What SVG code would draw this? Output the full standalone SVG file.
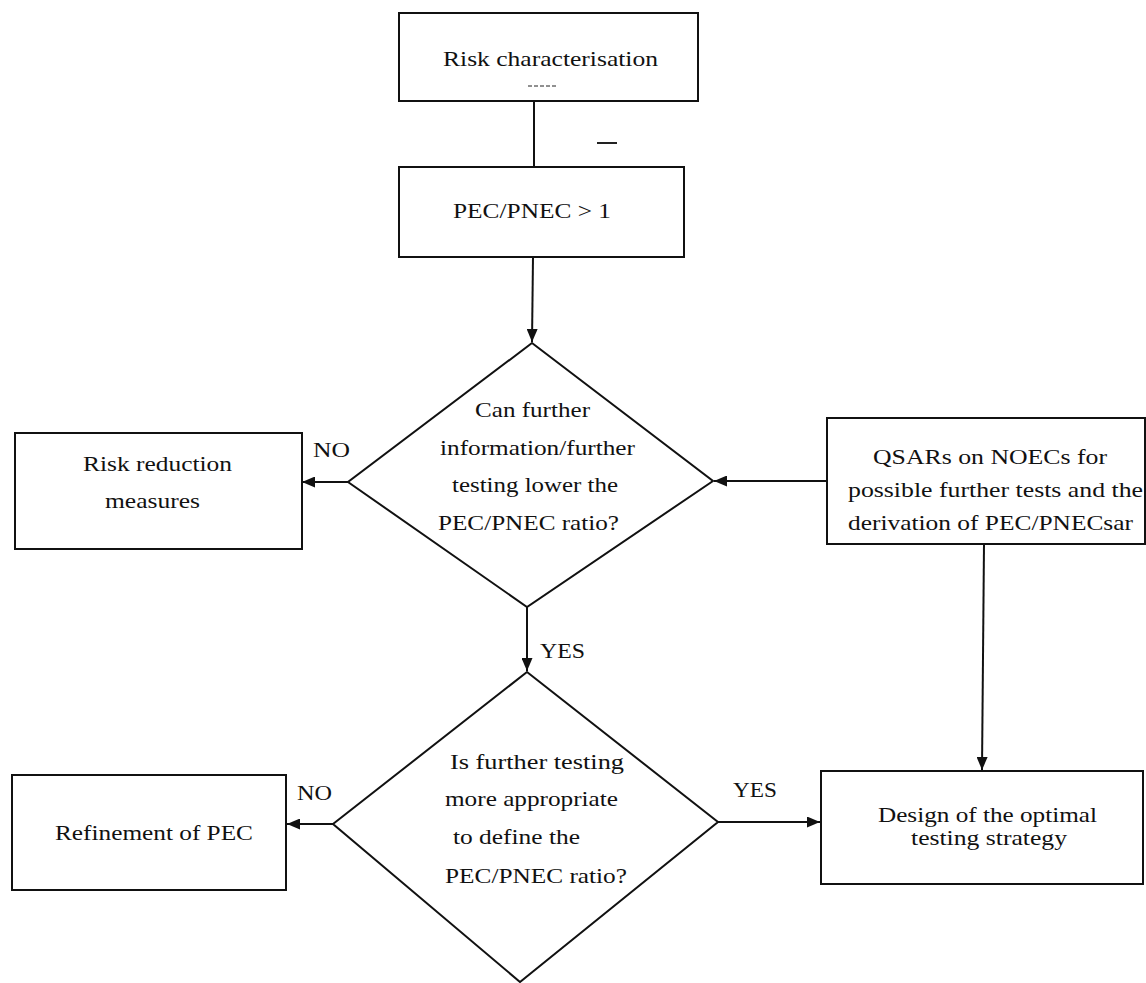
<svg xmlns="http://www.w3.org/2000/svg" width="1146" height="983" viewBox="0 0 1146 983">
  <style>
    .box { fill: #ffffff; stroke: #111111; stroke-width: 2; }
    .dia { fill: #ffffff; stroke: #111111; stroke-width: 2; stroke-linejoin: miter; }
    .edge { fill: none; stroke: #111111; stroke-width: 2; }
    .t { font-family: "Liberation Serif", "Times New Roman", serif; font-size: 21px; fill: #111111; }
    .mark { stroke: #222222; fill: none; }
  </style>
  <defs>
    <marker id="arrow" markerUnits="userSpaceOnUse" markerWidth="13" markerHeight="11" refX="13" refY="5.5" orient="auto">
      <path d="M0,0 L13,5.5 L0,11 z" fill="#111111"/>
    </marker>
  </defs>
  <rect width="1146" height="983" fill="#ffffff"/>

  <g id="connectors">
    <line class="edge" x1="534" y1="101" x2="534" y2="167"/>
    <line class="edge" x1="533" y1="257" x2="532" y2="342" marker-end="url(#arrow)"/>
    <line class="edge" x1="348" y1="482" x2="302" y2="482" marker-end="url(#arrow)"/>
    <line class="edge" x1="827" y1="481" x2="714" y2="481" marker-end="url(#arrow)"/>
    <line class="edge" x1="527" y1="607" x2="527" y2="671" marker-end="url(#arrow)"/>
    <line class="edge" x1="333" y1="824" x2="287" y2="824" marker-end="url(#arrow)"/>
    <line class="edge" x1="718" y1="822" x2="820" y2="822" marker-end="url(#arrow)"/>
    <line class="edge" x1="984" y1="544" x2="982" y2="770" marker-end="url(#arrow)"/>
    <text class="t" x="313" y="457" textLength="37" lengthAdjust="spacingAndGlyphs">NO</text>
    <text class="t" x="540" y="658" textLength="45" lengthAdjust="spacingAndGlyphs">YES</text>
    <text class="t" x="297" y="800" textLength="35" lengthAdjust="spacingAndGlyphs">NO</text>
    <text class="t" x="733" y="797" textLength="44" lengthAdjust="spacingAndGlyphs">YES</text>
  </g>

  <g id="risk-characterisation">
    <rect class="box" x="399" y="13" width="299" height="88"/>
    <text class="t" x="443" y="66" textLength="215" lengthAdjust="spacingAndGlyphs">Risk characterisation</text>
    <line class="mark" x1="528" y1="86" x2="557" y2="86" stroke-width="1" stroke-dasharray="4,2"/>
  </g>

  <line class="mark" x1="597" y1="143" x2="617" y2="143" stroke-width="2"/>

  <g id="pec-pnec">
    <rect class="box" x="399" y="167" width="285" height="90"/>
    <text class="t" x="453" y="218" textLength="158" lengthAdjust="spacingAndGlyphs">PEC/PNEC &gt; 1</text>
  </g>

  <g id="decision-further-info">
    <polygon class="dia" points="532,343 713,481 527,607 348,482"/>
    <text class="t" x="475" y="417" textLength="115" lengthAdjust="spacingAndGlyphs">Can further</text>
    <text class="t" x="440" y="455" textLength="195" lengthAdjust="spacingAndGlyphs">information/further</text>
    <text class="t" x="452" y="492" textLength="166" lengthAdjust="spacingAndGlyphs">testing lower the</text>
    <text class="t" x="438" y="530" textLength="181" lengthAdjust="spacingAndGlyphs">PEC/PNEC ratio?</text>
  </g>

  <g id="risk-reduction">
    <rect class="box" x="15" y="433" width="287" height="116"/>
    <text class="t" x="83" y="471" textLength="149" lengthAdjust="spacingAndGlyphs">Risk reduction</text>
    <text class="t" x="105" y="508" textLength="95" lengthAdjust="spacingAndGlyphs">measures</text>
  </g>

  <g id="qsars">
    <rect class="box" x="827" y="418" width="318" height="126"/>
    <text class="t" x="873" y="464" textLength="234" lengthAdjust="spacingAndGlyphs">QSARs on NOECs for</text>
    <text class="t" x="848" y="497" textLength="295" lengthAdjust="spacingAndGlyphs">possible further tests and the</text>
    <text class="t" x="848" y="530" textLength="285" lengthAdjust="spacingAndGlyphs">derivation of PEC/PNECsar</text>
  </g>

  <g id="decision-further-testing">
    <polygon class="dia" points="527,672 718,822 520,982 333,824"/>
    <text class="t" x="450" y="769" textLength="174" lengthAdjust="spacingAndGlyphs">Is further testing</text>
    <text class="t" x="445" y="806" textLength="173" lengthAdjust="spacingAndGlyphs">more appropriate</text>
    <text class="t" x="453" y="844" textLength="127" lengthAdjust="spacingAndGlyphs">to define the</text>
    <text class="t" x="445" y="883" textLength="182" lengthAdjust="spacingAndGlyphs">PEC/PNEC ratio?</text>
  </g>

  <g id="refinement-of-pec">
    <rect class="box" x="12" y="775" width="274" height="115"/>
    <text class="t" x="55" y="840" textLength="198" lengthAdjust="spacingAndGlyphs">Refinement of PEC</text>
  </g>

  <g id="design-testing-strategy">
    <rect class="box" x="821" y="771" width="322" height="113"/>
    <text class="t" x="878" y="822" textLength="219" lengthAdjust="spacingAndGlyphs">Design of the optimal</text>
    <text class="t" x="911" y="845" textLength="156" lengthAdjust="spacingAndGlyphs">testing strategy</text>
  </g>
</svg>
